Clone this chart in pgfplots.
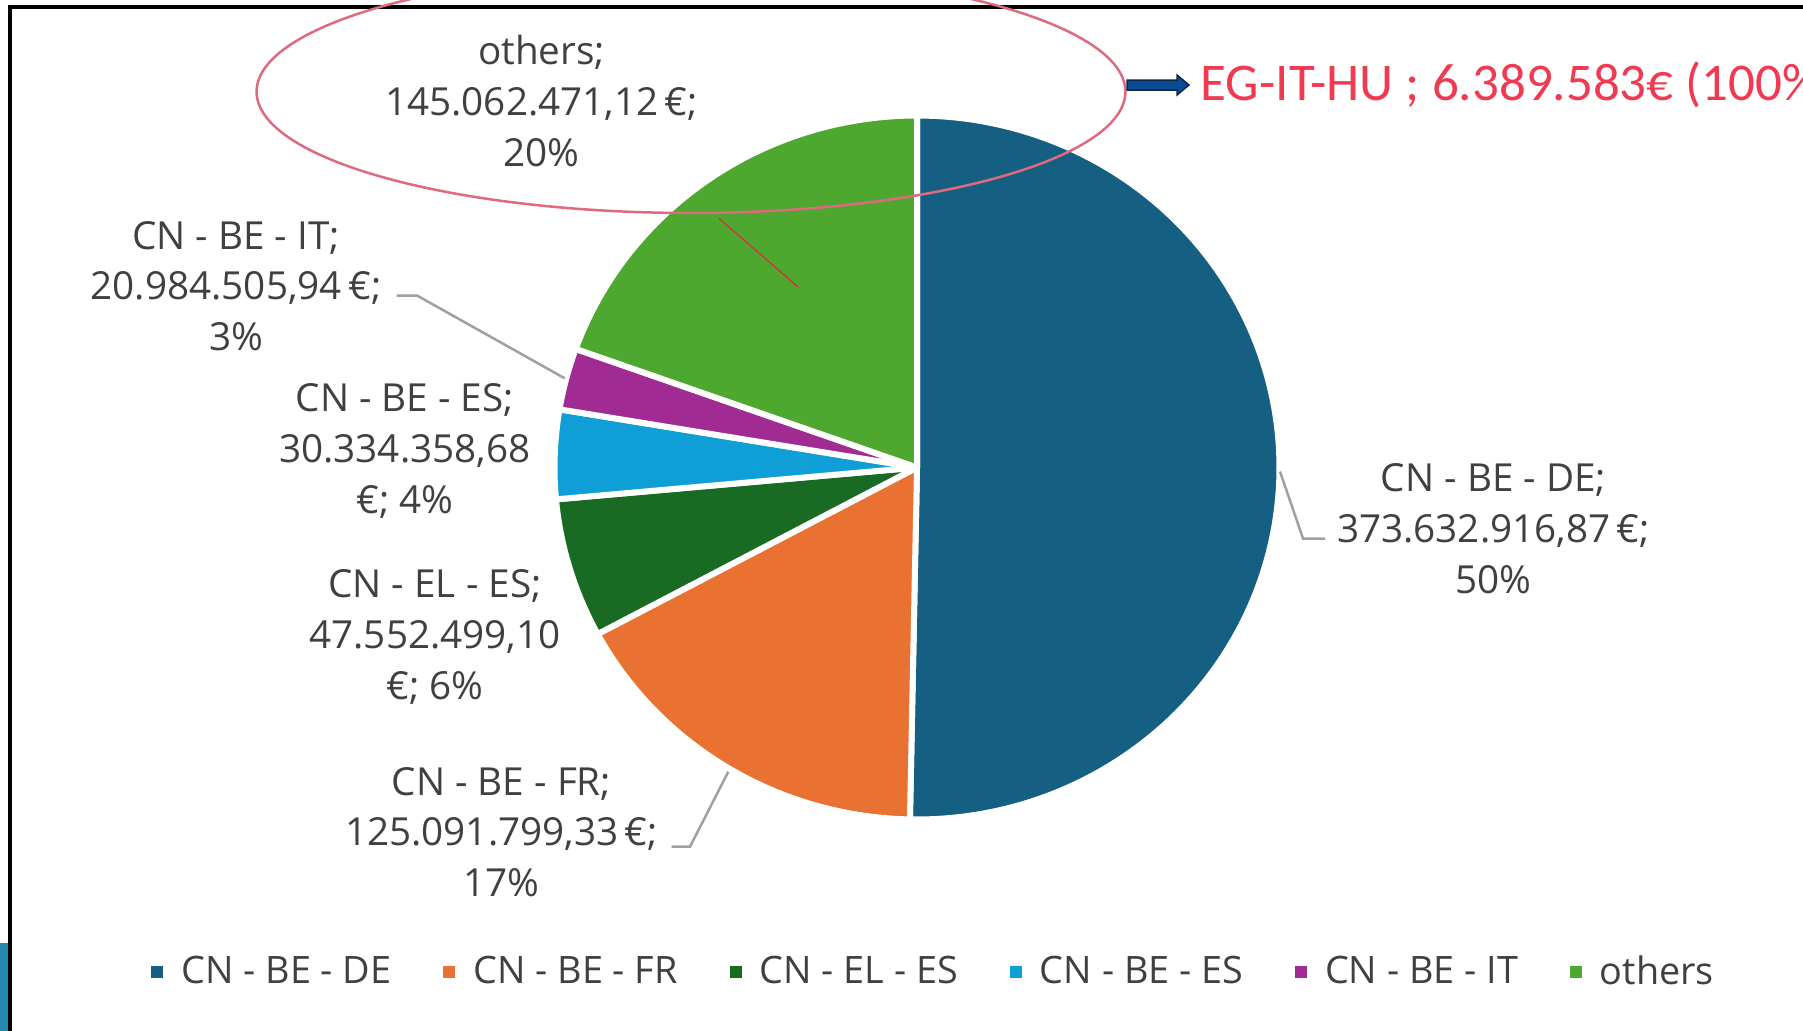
\documentclass[border=0pt]{standalone}
\usepackage{fontspec}
\setmainfont{Open Sans}
\newfontfamily\calib{Carlito}
\usepackage{pgfplots}
\pgfplotsset{compat=1.18}

\definecolor{cDE}{HTML}{156082}
\definecolor{cFR}{HTML}{E97132}
\definecolor{cELES}{HTML}{196B24}
\definecolor{cBEES}{HTML}{0F9ED5}
\definecolor{cBEIT}{HTML}{A02B93}
\definecolor{cOth}{HTML}{4EA72E}
\definecolor{txt}{HTML}{404040}
\definecolor{leader}{HTML}{A0A0A0}
\definecolor{redtxt}{HTML}{F03A52}
\definecolor{ellpink}{HTML}{DE6A80}
\definecolor{redline}{HTML}{E0283C}
\definecolor{arrowblue}{HTML}{0A4A96}
\definecolor{arrowdark}{HTML}{0E2841}
\definecolor{tealbar}{HTML}{2389B0}

% values (million EUR)
\def\vA{373.63291687}% CN - BE - DE
\def\vB{125.09179933}% CN - BE - FR
\def\vC{47.55249910}%  CN - EL - ES
\def\vD{30.33435868}%  CN - BE - ES
\def\vE{20.98450594}%  CN - BE - IT
\def\vF{145.06247112}% others
\pgfmathsetmacro{\T}{\vA+\vB+\vC+\vD+\vE+\vF}
\pgfmathsetmacro{\bO}{90}
\pgfmathsetmacro{\bA}{\bO-360*(\vA/\T)}
\pgfmathsetmacro{\bB}{\bA-360*(\vB/\T)}
\pgfmathsetmacro{\bC}{\bB-360*(\vC/\T)}
\pgfmathsetmacro{\bD}{\bC-360*(\vD/\T)}
\pgfmathsetmacro{\bE}{\bD-360*(\vE/\T)}
\pgfmathsetmacro{\bF}{\bE-360*(\vF/\T)}

\def\cx{917}
\def\cy{467.5}
\def\rx{362.5}
\def\ry{352}

\tikzset{lab/.style={font=\fontsize{11pt}{14.45pt}\selectfont, text=txt, align=center, inner sep=0pt, anchor=center},
  wedge/.style={draw=white, line width=0.6mm, line join=round}}

\begin{document}
\begin{tikzpicture}
\useasboundingbox (0,0) rectangle (180.3mm,103.1mm);
\clip (0,0) rectangle (180.3mm,103.1mm);
\begin{axis}[
  at={(0,0)}, anchor=south west,
  width=180.3mm, height=103.1mm, scale only axis,
  xmin=0, xmax=1803, ymin=0, ymax=1031, y dir=reverse,
  hide axis, clip=false,
  legend columns=6,
  legend image code/.code={\fill[#1,draw=none] (0mm,-0.6mm) rectangle (1.2mm,0.6mm);},
  legend style={at={(axis cs:151.5,972.5)}, anchor=west, draw=none, fill=none,
    inner sep=0pt, outer sep=0pt,
    font=\fontsize{10.75pt}{12pt}\selectfont, text=txt,
    nodes={inner sep=0pt},
    /tikz/every odd column/.append style={column sep=1.8mm},
    /tikz/every even column/.append style={column sep=5.2mm}},
]
% frame
\fill[black] (axis cs:8,5) rectangle (axis cs:1803,9.5);
\fill[black] (axis cs:8,5) rectangle (axis cs:12,1031);
\fill[tealbar] (axis cs:0,943) rectangle (axis cs:8,1031);

% pie wedges
\addplot[fill=cDE, wedge, domain=\bA:\bO, samples=121]
  ({\cx+\rx*cos(x)},{\cy-\ry*sin(x)}) -- (axis cs:\cx,\cy) -- cycle;
\addlegendentry{CN - BE - DE}
\addplot[fill=cFR, wedge, domain=\bB:\bA, samples=61]
  ({\cx+\rx*cos(x)},{\cy-\ry*sin(x)}) -- (axis cs:\cx,\cy) -- cycle;
\addlegendentry{CN - BE - FR}
\addplot[fill=cELES, wedge, domain=\bC:\bB, samples=31]
  ({\cx+\rx*cos(x)},{\cy-\ry*sin(x)}) -- (axis cs:\cx,\cy) -- cycle;
\addlegendentry{CN - EL - ES}
\addplot[fill=cBEES, wedge, domain=\bD:\bC, samples=21]
  ({\cx+\rx*cos(x)},{\cy-\ry*sin(x)}) -- (axis cs:\cx,\cy) -- cycle;
\addlegendentry{CN - BE - ES}
\addplot[fill=cBEIT, wedge, domain=\bE:\bD, samples=21]
  ({\cx+\rx*cos(x)},{\cy-\ry*sin(x)}) -- (axis cs:\cx,\cy) -- cycle;
\addlegendentry{CN - BE - IT}
\addplot[fill=cOth, wedge, domain=\bF:\bE, samples=71]
  ({\cx+\rx*cos(x)},{\cy-\ry*sin(x)}) -- (axis cs:\cx,\cy) -- cycle;
\addlegendentry{others}

% leader lines
\draw[leader, line width=0.25mm] (axis cs:396.5,295.5) -- (axis cs:417,295.5) -- (axis cs:564.7,378.3);
\draw[leader, line width=0.25mm] (axis cs:1280,471.5) -- (axis cs:1303,538.5) -- (axis cs:1325,538.5);
\draw[leader, line width=0.25mm] (axis cs:728.3,771.7) -- (axis cs:690,846.7) -- (axis cs:671.7,846.7);

% data labels
\node[lab] at (axis cs:541.6,101) {others;\\145.062.471,12\,€;\\20\%};
\node[lab] at (axis cs:236,286) {CN - BE - IT;\\20.984.505,94\,€;\\3\%};
\node[lab] at (axis cs:404.8,451) {CN - BE - ES;\\30.334.358,68\\€; 4\%};
\node[lab] at (axis cs:435,637) {CN - EL - ES;\\47.552.499,10\\€; 6\%};
\node[lab] at (axis cs:501.5,832) {CN - BE - FR;\\125.091.799,33\,€;\\17\%};
\node[lab] at (axis cs:1493.5,528.5) {CN - BE - DE;\\373.632.916,87\,€;\\50\%};

% annotation
\draw[ellpink, line width=0.25mm] (axis cs:691,91.7) ellipse [x radius=43.44mm, y radius=12.13mm];
\draw[redline, line width=0.12mm] (axis cs:719,218.3) -- (axis cs:798.3,287.3);
\filldraw[fill=arrowblue, draw=arrowdark, line width=0.15mm]
  (axis cs:1127,80) -- (axis cs:1177,80) -- (axis cs:1177,75) -- (axis cs:1189,85)
  -- (axis cs:1177,95) -- (axis cs:1177,90) -- (axis cs:1127,90) -- cycle;
\node[anchor=base west, inner sep=0pt, text=redtxt, font=\calib\fontsize{15.08pt}{18pt}\selectfont]
  at (axis cs:1200,101) {EG-IT-HU ; 6.389.583€ (100\%)};
\end{axis}
\end{tikzpicture}
\end{document}
